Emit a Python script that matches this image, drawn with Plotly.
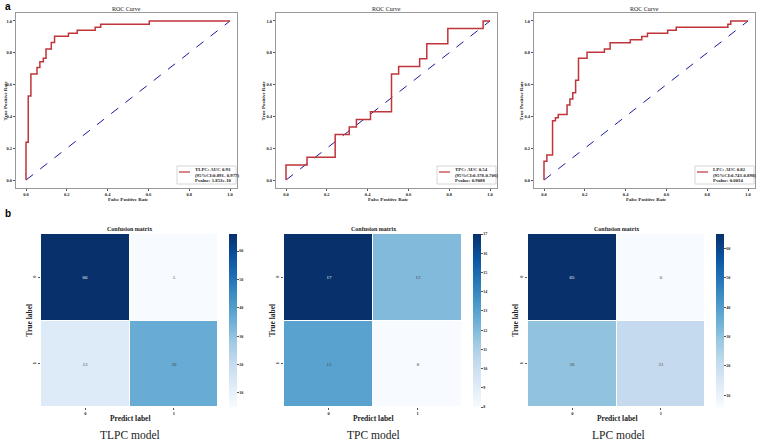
import plotly.graph_objects as go

W, H = 760, 443

# ---------------- data ----------------
models = ["TLPC", "TPC", "LPC"]

tlpc_fpr = [0, 0, 0.011, 0.024, 0.054, 0.068, 0.085, 0.098, 0.124, 0.140, 0.208, 0.251, 0.339, 0.366, 0.604, 1.0]
tlpc_tpr = [0, 0.237, 0.528, 0.667, 0.707, 0.744, 0.765, 0.824, 0.864, 0.904, 0.922, 0.941, 0.960, 0.979, 1.0, 1.0]

tpc_fpr = [0, 0, 0.103, 0.241, 0.310, 0.345, 0.414, 0.517, 0.552, 0.655, 0.690, 0.793, 0.966, 1.0]
tpc_tpr = [0, 0.095, 0.143, 0.286, 0.333, 0.381, 0.429, 0.667, 0.714, 0.762, 0.857, 0.952, 1.0, 1.0]

lpc_fpr = [0, 0, 0.014, 0.042, 0.056, 0.070, 0.113, 0.127, 0.141, 0.155, 0.169, 0.211, 0.296, 0.324,
           0.423, 0.479, 0.507, 0.606, 0.648, 0.901, 0.915, 1.0]
lpc_tpr = [0, 0.118, 0.157, 0.373, 0.392, 0.412, 0.471, 0.510, 0.549, 0.627, 0.765, 0.804, 0.824, 0.863,
           0.882, 0.902, 0.922, 0.941, 0.961, 0.980, 1.0, 1.0]

auc_labels = ["TLPC: AUC 0.93", "TPC: AUC 0.54", "LPC: AUC 0.82"]
ci_labels = ["(95%CI:0.891- 0.977)", "(95%CI:0.378-0.706)", "(95%CI:0.743-0.898)"]
p_labels = ["Pvalue: 1.853e-10", "Pvalue: 0.9088", "Pvalue: 0.0034"]

tlpc_cm = [[66, 5], [13, 36]]
tpc_cm = [[17, 12], [13, 8]]
lpc_cm = [[65, 6], [30, 21]]

class_labels = ["0", "1"]
roc_ticks = [0.0, 0.2, 0.4, 0.6, 0.8, 1.0]
roc_ticktext = ["0.0", "0.2", "0.4", "0.6", "0.8", "1.0"]
cbar_ticks = [[10, 20, 30, 40, 50, 60], list(range(8, 18)), [10, 20, 30, 40, 50, 60]]
captions = ["TLPC model", "TPC model", "LPC model"]

rocs = [(tlpc_fpr, tlpc_tpr), (tpc_fpr, tpc_tpr), (lpc_fpr, lpc_tpr)]
cms = [tlpc_cm, tpc_cm, lpc_cm]

# ---------------- layout geometry (pixels) ----------------
roc_boxes_x = [(16, 237), (276, 497), (534, 755)]
roc_box_y = (13, 188)
hm_boxes_x = [(41, 218), (284, 462), (528, 705)]
hm_box_y = (234, 407)
cbar_x = [229, 473, 716]
roc_ytitle_x = [5, 263, 521]
hm_ytitle_x = [29, 272, 515]
caption_x = [130, 373, 618]

def px(x):
    return x / W

def py(y):
    return 1 - y / H

SERIF = "Liberation Serif"
BLUES = [[0.0, "#f7fbff"], [0.125, "#deebf7"], [0.25, "#c6dbef"], [0.375, "#9ecae1"],
         [0.5, "#6baed6"], [0.625, "#4292c6"], [0.75, "#2171b5"], [0.875, "#08519c"], [1.0, "#08306b"]]

fig = go.Figure()
layout = dict(
    width=W, height=H, margin=dict(l=0, r=0, t=0, b=0),
    paper_bgcolor="white", plot_bgcolor="white", showlegend=False,
    font=dict(family=SERIF, color="#222"),
)
annotations = []
shapes = []


def note(text, x, y, size, bold=False, angle=0, xanchor="center", yanchor="middle", align="center",
         family=SERIF, color="#222"):
    f = dict(size=size, family=family, color=color)
    if bold:
        f["weight"] = "bold"
    annotations.append(dict(text=text, x=px(x), y=py(y), xref="paper", yref="paper", showarrow=False,
                            textangle=angle, xanchor=xanchor, yanchor=yanchor, align=align, font=f))


for i in range(3):
    # ---------- ROC ----------
    ax_n = i + 1
    xa = "x" if ax_n == 1 else f"x{ax_n}"
    ya = "y" if ax_n == 1 else f"y{ax_n}"
    fpr, tpr = rocs[i]
    fig.add_trace(go.Scatter(x=[0, 1], y=[0, 1], mode="lines", xaxis=xa, yaxis=ya,
                             line=dict(color="#1a1aa0", width=1, dash="dash"), hoverinfo="skip"))
    fig.add_trace(go.Scatter(x=fpr, y=tpr, mode="lines", line_shape="hv", xaxis=xa, yaxis=ya,
                             line=dict(color="#c0353a", width=1.5), name=auc_labels[i]))
    x0, x1 = roc_boxes_x[i]
    axis_common = dict(showgrid=False, zeroline=False, showline=True, mirror=True,
                       linecolor="#999", linewidth=1, ticks="outside", ticklen=2, tickcolor="#555",
                       tickvals=roc_ticks, ticktext=roc_ticktext,
                       tickfont=dict(size=4.5, family=SERIF, weight="bold"))
    layout["xaxis" if ax_n == 1 else f"xaxis{ax_n}"] = dict(
        domain=[px(x0), px(x1)], anchor=ya, range=[-0.049, 1.034], fixedrange=True,
        **axis_common)
    layout["yaxis" if ax_n == 1 else f"yaxis{ax_n}"] = dict(
        domain=[py(roc_box_y[1]), py(roc_box_y[0])], anchor=xa, range=[-0.05, 1.05], fixedrange=True,
        **axis_common)
    note("False Positive Rate", (x0 + x1) / 2 + 2, 199, 5, bold=True)
    note("True Positive Rate", roc_ytitle_x[i], (roc_box_y[0] + roc_box_y[1]) / 2, 5, bold=True, angle=-90)
    note("ROC Curve", (x0 + x1) / 2, 9, 6)
    # legend box
    lx0, lx1 = x1 - 60, x1 - 1
    ly0, ly1 = roc_box_y[1] - 22, roc_box_y[1] - 4
    shapes.append(dict(type="rect", xref="paper", yref="paper", x0=px(lx0), x1=px(lx1), y0=py(ly1), y1=py(ly0),
                       line=dict(color="#ccc", width=0.8), fillcolor="white", layer="above"))
    shapes.append(dict(type="line", xref="paper", yref="paper", x0=px(lx0 + 2), x1=px(lx0 + 13),
                       y0=py(ly0 + 6), y1=py(ly0 + 6), line=dict(color="#c0353a", width=1.2), layer="above"))
    note(auc_labels[i] + "<br>" + ci_labels[i], lx0 + 16, ly0 + 6, 4.8, bold=True, xanchor="left", align="left")
    note(p_labels[i], lx0 + 16, ly0 + 14.5, 4.8, bold=True, xanchor="left", align="left")

    # ---------- Confusion matrix ----------
    ax_m = i + 4
    xa = f"x{ax_m}"
    ya = f"y{ax_m}"
    cm = cms[i]
    flat = [v for row in cm for v in row]
    hx0, hx1 = hm_boxes_x[i]
    fig.add_trace(go.Heatmap(
        z=cm, x=[0, 1], y=[0, 1], xaxis=xa, yaxis=ya, colorscale=BLUES,
        zmin=min(flat), zmax=max(flat), xgap=1, ygap=1,
        texttemplate="%{z}", textfont=dict(size=5, family=SERIF),
        colorbar=dict(x=px(cbar_x[i]), xanchor="left", y=py((hm_box_y[0] + hm_box_y[1]) / 2), yanchor="middle",
                      len=hm_box_y[1] - hm_box_y[0], lenmode="pixels", thickness=8, outlinewidth=0,
                      tickvals=cbar_ticks[i], ticks="outside", ticklen=2, tickcolor="#555",
                      tickfont=dict(size=4, family=SERIF, weight="bold"), xpad=0, ypad=0)))
    layout[f"xaxis{ax_m}"] = dict(
        domain=[px(hx0), px(hx1)], anchor=ya, range=[-0.5, 1.5], tickvals=[0, 1], ticktext=class_labels,
        showgrid=False, zeroline=False, showline=False, ticks="outside", ticklen=2, tickcolor="#555",
        tickfont=dict(size=4.5, family=SERIF, weight="bold"), fixedrange=True)
    layout[f"yaxis{ax_m}"] = dict(
        domain=[py(hm_box_y[1]), py(hm_box_y[0])], anchor=xa, range=[1.5, -0.5], tickvals=[0, 1],
        ticktext=class_labels, tickangle=-90, showgrid=False, zeroline=False, showline=False,
        ticks="outside", ticklen=2, tickcolor="#555", fixedrange=True,
        tickfont=dict(size=4.5, family=SERIF, weight="bold"))
    note("Predict label", (hx0 + hx1) / 2, 418, 7.5, bold=True)
    note("True label", hm_ytitle_x[i], (hm_box_y[0] + hm_box_y[1]) / 2, 7.5, bold=True, angle=-90)
    note("Confusion matrix", (hx0 + hx1) / 2, 229, 6, bold=True)
    note(captions[i], caption_x[i], 435, 11.5)

note("a", 3, 6, 10, bold=True, xanchor="left", family="Liberation Sans", color="black")
note("b", 3, 214, 10, bold=True, xanchor="left", family="Liberation Sans", color="black")

layout["annotations"] = annotations
layout["shapes"] = shapes
fig.update_layout(**layout)
fig.write_html("out.html", config={"displayModeBar": False},
               post_script="document.body.style.margin='0';document.body.style.padding='0';"
                           "document.documentElement.style.overflow='hidden';")
